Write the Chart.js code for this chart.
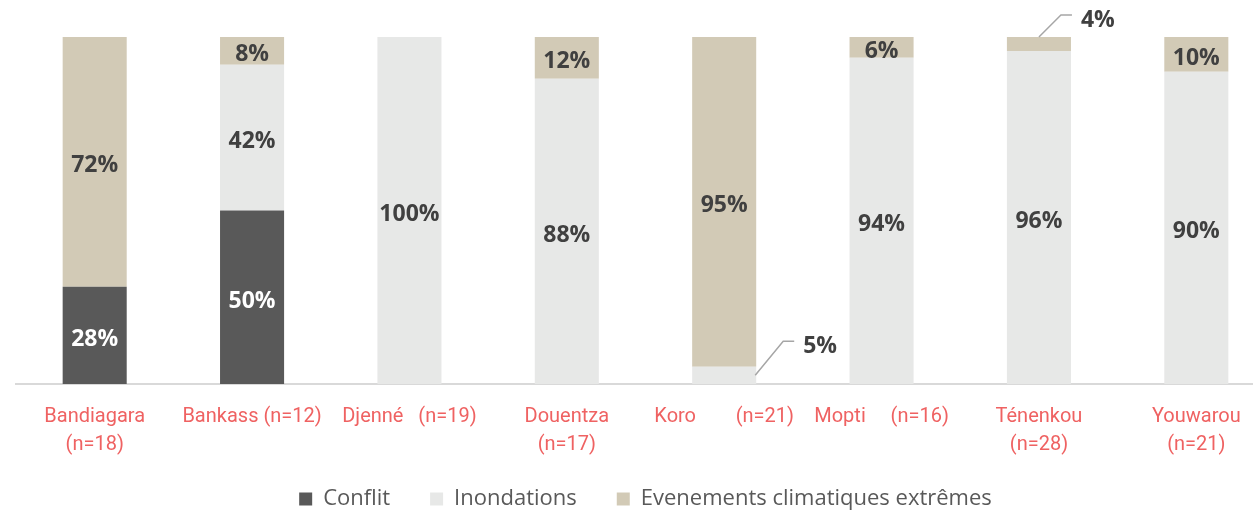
<!DOCTYPE html>
<html>
<head>
<meta charset="utf-8">
<script src="https://cdn.jsdelivr.net/npm/chart.js@4"></script>
<style>
  html, body { margin: 0; padding: 0; background: #fff; overflow: hidden; }
  #wrap { position: relative; width: 1275px; height: 520px; }
</style>
</head>
<body>
<div id="wrap"><canvas id="chart"></canvas></div>
<script>
// categories (array = two-line label)
const categories = [
    ['Bandiagara', '(n=18)'],
    'Bankass (n=12)',
    'Djenné   (n=19)',
    ['Douentza', '(n=17)'],
    'Koro        (n=21)',
    'Mopti     (n=16)',
    ['Ténenkou', '(n=28)'],
    ['Youwarou', '(n=21)']
];

const conflit = [28, 50, 0, 0, 0, 0, 0, 0];
const inondations = [0, 42, 100, 88, 5, 94, 96, 90];
const climatiques = [72, 8, 0, 12, 95, 6, 4, 10];

// small segments get a callout line instead of an inside label
const callouts = {
    '1-4': { from: [1, 0.5], to: [28, -34], tail: 11 },
    '2-6': { from: [0, 0], to: [22, -22], tail: 11 }
};

const valueLabels = {
    id: 'valueLabels',
    afterLayout(chart) {
        // let the two-line tick labels run below the (short) x axis box
        chart.scales.x.bottom = chart.height;
    },
    afterDatasetsDraw(chart) {
        const ctx = chart.ctx;
        ctx.save();
        ctx.font = 'bold 23px "Open Sans", "Noto Sans", sans-serif';
        ctx.textBaseline = 'middle';
        chart.data.datasets.forEach((ds, di) => {
            const meta = chart.getDatasetMeta(di);
            meta.data.forEach((bar, i) => {
                const v = ds.data[i];
                if (!v) return;
                const text = v + '%';
                const c = callouts[di + '-' + i];
                if (c) {
                    const top = Math.min(bar.y, bar.base);
                    const h = Math.abs(bar.base - bar.y);
                    const sx = c.from[0] ? bar.x + bar.width / 2 - 1 : bar.x;
                    const sy = top + h * c.from[1];
                    const mx = sx + c.to[0];
                    const my = sy + c.to[1];
                    ctx.strokeStyle = '#a6a6a6';
                    ctx.lineWidth = 1.5;
                    ctx.beginPath();
                    ctx.moveTo(sx, sy);
                    ctx.lineTo(mx, my);
                    ctx.lineTo(mx + c.tail, my);
                    ctx.stroke();
                    ctx.fillStyle = '#404040';
                    ctx.textAlign = 'left';
                    ctx.fillText(text, mx + c.tail + 9, my + 5);
                } else {
                    ctx.fillStyle = di === 0 ? '#ffffff' : '#404040';
                    ctx.textAlign = 'center';
                    ctx.fillText(text, bar.x, (bar.y + bar.base) / 2 + 4);
                }
            });
        });
        ctx.restore();
    }
};

new Chart(document.getElementById('chart'), {
    type: 'bar',
    data: {
        labels: categories,
        datasets: [
            { label: 'Conflit', data: conflit, backgroundColor: '#595959' },
            { label: 'Inondations', data: inondations, backgroundColor: '#e7e8e7' },
            { label: 'Evenements climatiques extrêmes', data: climatiques, backgroundColor: '#d2cab6' }
        ]
    },
    options: {
        responsive: true,
        maintainAspectRatio: false,
        animation: false,
        barPercentage: 0.407,
        categoryPercentage: 1,
        layout: { padding: { top: 37, left: 16, right: 0, bottom: 0 } },
        plugins: {
            legend: {
                position: 'bottom',
                labels: {
                    boxWidth: 13,
                    boxHeight: 13,
                    padding: 40,
                    color: '#595959',
                    font: { family: '"Open Sans", "Noto Sans", sans-serif', size: 22 }
                }
            },
            tooltip: { enabled: false },
            title: { display: false }
        },
        scales: {
            x: {
                stacked: true,
                grid: { display: false },
                border: { display: true, color: '#d9d9d9', width: 2 },
                afterFit(scale) { scale.height = 64; },
                ticks: {
                    color: '#ef6262',
                    maxRotation: 0,
                    autoSkip: false,
                    padding: 11,
                    font: { family: '"Roboto", sans-serif', size: 20, lineHeight: '28px' }
                }
            },
            y: {
                stacked: true,
                display: false,
                min: 0,
                max: 100
            }
        }
    },
    plugins: [valueLabels]
});
</script>
</body>
</html>
